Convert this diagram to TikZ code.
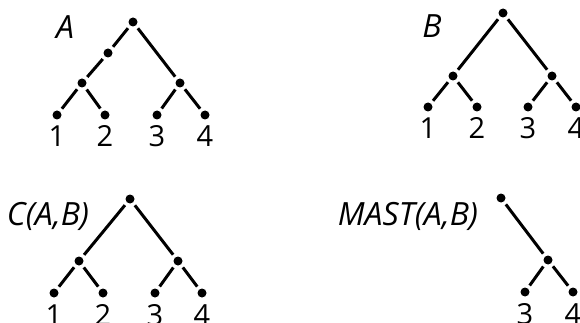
\documentclass[tikz,border=0pt]{standalone}
\usepackage{fontspec}
\setmainfont{Open Sans}
\usetikzlibrary{positioning}
\tikzset{
  dot/.style={
    circle,
    fill=black,
    inner sep=0pt,
    minimum size=9pt,
    outer sep=3.5pt
  },
  branch/.style={
    line width=3pt
  },
  num/.style={
    anchor=base,
    yshift=-32pt,
    inner sep=0pt,
    font=\fontsize{29}{29}\selectfont
  },
  treename/.style={
    anchor=base,
    inner sep=0pt,
    font=\fontsize{32}{32}\selectfont\itshape
  }
}

\begin{document}
\begin{tikzpicture}[x=1pt, y=-1pt]
\useasboundingbox (0,0) rectangle (580,323);
\clip (0,0) rectangle (580,323);
% tree A
\node[treename] (nameA) at (65,39) {A};
\node[dot] (aroot) at (133,22) {};
\node[dot] (amid) at (108,53) {};
\node[dot] (aleft) at (82,83) {};
\node[dot] (aright) at (180,83) {};
\node[dot] (a1) at (57,115) {};
\node[dot] (a2) at (105,115) {};
\node[dot] (a3) at (157,115) {};
\node[dot] (a4) at (205,115) {};
\node[num] (a1n) at (a1) {1};
\node[num] (a2n) at (a2) {2};
\node[num] (a3n) at (a3) {3};
\node[num] (a4n) at (a4) {4};
\draw[branch] (aroot) -- (amid);
\draw[branch] (amid) -- (aleft);
\draw[branch] (aroot) -- (aright);
\draw[branch] (aleft) -- (a1);
\draw[branch] (aleft) -- (a2);
\draw[branch] (aright) -- (a3);
\draw[branch] (aright) -- (a4);
% tree B
\node[treename] (nameB) at (432,38) {B};
\node[dot] (broot) at (503,13) {};
\node[dot] (bleft) at (453,76) {};
\node[dot] (bright) at (552,76) {};
\node[dot] (b1) at (428,107) {};
\node[dot] (b2) at (477,107) {};
\node[dot] (b3) at (528,107) {};
\node[dot] (b4) at (576,107) {};
\node[num] (b1n) at (b1) {1};
\node[num] (b2n) at (b2) {2};
\node[num] (b3n) at (b3) {3};
\node[num] (b4n) at (b4) {4};
\draw[branch] (broot) -- (bleft);
\draw[branch] (broot) -- (bright);
\draw[branch] (bleft) -- (b1);
\draw[branch] (bleft) -- (b2);
\draw[branch] (bright) -- (b3);
\draw[branch] (bright) -- (b4);
% consensus tree
\node[treename] (nameC) at (48,225) {C(A,B)};
\node[dot] (croot) at (130,199) {};
\node[dot] (cleft) at (79,261) {};
\node[dot] (cright) at (178,261) {};
\node[dot] (c1) at (54,293) {};
\node[dot] (c2) at (103,293) {};
\node[dot] (c3) at (155,293) {};
\node[dot] (c4) at (202,293) {};
\node[num] (c1n) at (c1) {1};
\node[num] (c2n) at (c2) {2};
\node[num] (c3n) at (c3) {3};
\node[num] (c4n) at (c4) {4};
\draw[branch] (croot) -- (cleft);
\draw[branch] (croot) -- (cright);
\draw[branch] (cleft) -- (c1);
\draw[branch] (cleft) -- (c2);
\draw[branch] (cright) -- (c3);
\draw[branch] (cright) -- (c4);
% MAST
\node[treename] (nameM) at (408,225) {MAST(A,B)};
\node[dot] (mroot) at (501,198) {};
\node[dot] (mmid) at (548,260) {};
\node[dot] (m3) at (525,292) {};
\node[dot] (m4) at (573,292) {};
\node[num] (m3n) at (m3) {3};
\node[num] (m4n) at (m4) {4};
\draw[branch] (mroot) -- (mmid);
\draw[branch] (mmid) -- (m3);
\draw[branch] (mmid) -- (m4);
\end{tikzpicture}
\end{document}
